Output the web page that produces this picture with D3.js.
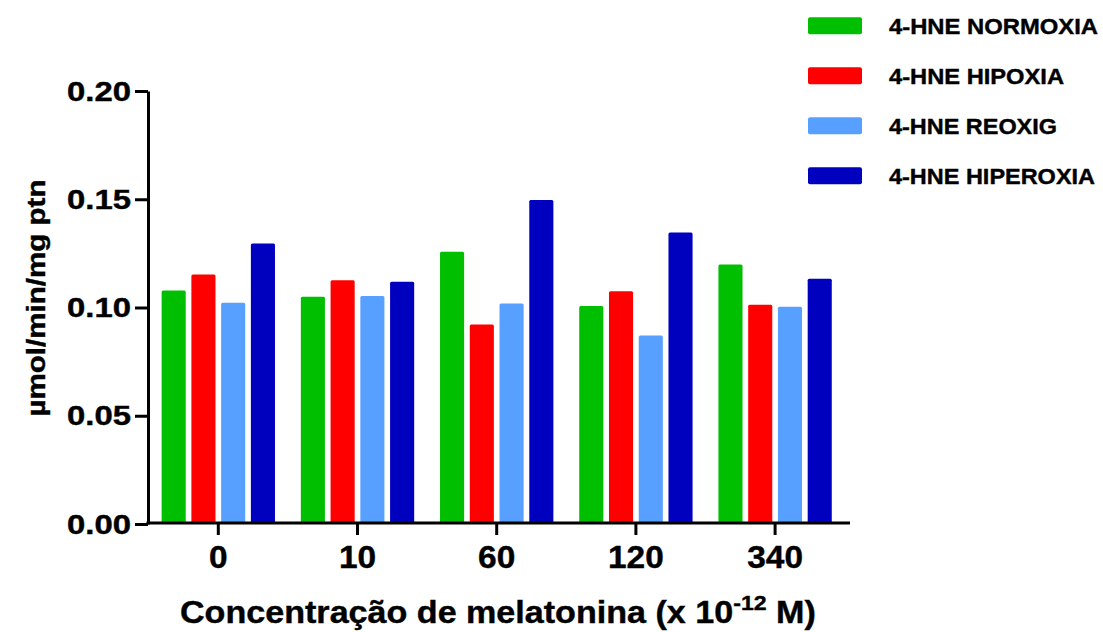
<!DOCTYPE html>
<html>
<head>
<meta charset="utf-8">
<script src="https://cdn.jsdelivr.net/npm/d3@7"></script>
<style>
  html, body { margin: 0; padding: 0; background: #fff; }
  svg { display: block; }
  text { font-family: "Liberation Sans", Arial, sans-serif; font-weight: bold; fill: #000; stroke: #000; stroke-width: 0.4px; }
</style>
</head>
<body>
<svg id="chart" width="1103" height="632"></svg>
<script>
// ---- data ----
const categories = ["0", "10", "60", "120", "340"];
const seriesNames = ["4-HNE NORMOXIA", "4-HNE HIPOXIA", "4-HNE REOXIG", "4-HNE HIPEROXIA"];
const normoxia   = [0.1078, 0.1050, 0.1258, 0.1007, 0.1199];
const hipoxia    = [0.1152, 0.1126, 0.0922, 0.1075, 0.1013];
const reoxig     = [0.1022, 0.1053, 0.1019, 0.0871, 0.1004];
const hiperoxia  = [0.1296, 0.1119, 0.1497, 0.1346, 0.1133];
const seriesValues = [normoxia, hipoxia, reoxig, hiperoxia];
const colors = ["#00BF00", "#FF0000", "#58A0FF", "#0000BF"];
const yTicks = [0, 0.05, 0.10, 0.15, 0.20];
const yTitle = "\u00b5mol/min/mg ptn";
const xTitleMain = "Concentra\u00e7\u00e3o de melatonina (x 10";
const xTitleSup = "-12";
const xTitleEnd = " M)";

// ---- layout ----
const svg = d3.select("#chart");
const x0 = d3.scaleBand().domain(categories).range([148.7, 844.7]).padding(0);
const x1 = d3.scaleBand().domain(d3.range(seriesNames.length)).range([0, 119])
  .paddingInner(0.19).paddingOuter(0.095);
const y = d3.scaleLinear().domain([0, 0.2]).range([524, 91]);

// bars
const groups = svg.append("g").selectAll("g")
  .data(categories)
  .join("g")
  .attr("transform", d => `translate(${x0(d) + x0.bandwidth() / 2 - 59.5},0)`);

groups.selectAll("rect")
  .data((d, i) => seriesValues.map((vals, s) => ({ s, v: vals[i] })))
  .join("rect")
  .attr("x", d => x1(d.s))
  .attr("width", x1.bandwidth())
  .attr("y", d => y(d.v))
  .attr("height", d => y(0) - y(d.v))
  .attr("rx", 1.5)
  .attr("fill", d => colors[d.s]);

// y axis
const yAxis = svg.append("g")
  .attr("transform", "translate(148,0)")
  .call(d3.axisLeft(y).tickValues(yTicks).tickFormat(d3.format(".2f")).tickSize(13).tickPadding(4).tickSizeOuter(0));
yAxis.select(".domain").attr("stroke", "#000").attr("stroke-width", 3);
yAxis.selectAll(".tick line").attr("stroke", "#000").attr("stroke-width", 3);
yAxis.selectAll("text").attr("font-family", null).attr("font-size", null);
yAxis.selectAll(".tick text")
  .style("font-size", "27px")
  .attr("dy", "0.34em")
  .attr("textLength", 64)
  .attr("lengthAdjust", "spacingAndGlyphs");

// x axis
const xAxis = svg.append("g")
  .attr("transform", "translate(0,523)")
  .call(d3.axisBottom(x0).tickSize(12).tickPadding(11).tickSizeOuter(0));
xAxis.select(".domain").remove();
xAxis.append("line")
  .attr("x1", 146.5).attr("x2", 850)
  .attr("y1", 0).attr("y2", 0)
  .attr("stroke", "#000").attr("stroke-width", 3);
xAxis.selectAll(".tick line").attr("stroke", "#000").attr("stroke-width", 3);
xAxis.selectAll("text").attr("font-family", null).attr("font-size", null);
xAxis.selectAll(".tick text")
  .style("font-size", "31px")
  .attr("dy", "0.71em")
  .attr("textLength", d => d.length * 18.6)
  .attr("lengthAdjust", "spacingAndGlyphs");

// y title
svg.append("text")
  .attr("transform", "translate(45,298) rotate(-90)")
  .attr("text-anchor", "middle")
  .style("font-size", "26px")
  .attr("textLength", 237)
  .attr("lengthAdjust", "spacingAndGlyphs")
  .text(yTitle);

// x title
const xt = svg.append("text")
  .attr("x", 0).attr("y", 0)
  .style("font-size", "31px");
xt.append("tspan").text(xTitleMain);
xt.append("tspan").attr("dy", -13).style("font-size", "21px").text(xTitleSup);
xt.append("tspan").attr("dy", 13).text(xTitleEnd);
const natural = xt.node().getComputedTextLength();
const targetW = 636;
xt.attr("transform", `translate(180,623) scale(${targetW / natural},1)`);

// legend
const legendWidths = [209, 175, 168, 206];
const legend = svg.append("g").selectAll("g")
  .data(seriesNames)
  .join("g")
  .attr("transform", (d, i) => `translate(0,${25.7 + i * 50})`);
legend.append("rect")
  .attr("x", 808).attr("y", -8.5)
  .attr("width", 54).attr("height", 17)
  .attr("rx", 2)
  .attr("fill", (d, i) => colors[i]);
legend.append("text")
  .attr("x", 889)
  .attr("y", 8)
  .style("font-size", "22px")
  .attr("textLength", (d, i) => legendWidths[i])
  .attr("lengthAdjust", "spacingAndGlyphs")
  .text(d => d);
</script>
</body>
</html>
